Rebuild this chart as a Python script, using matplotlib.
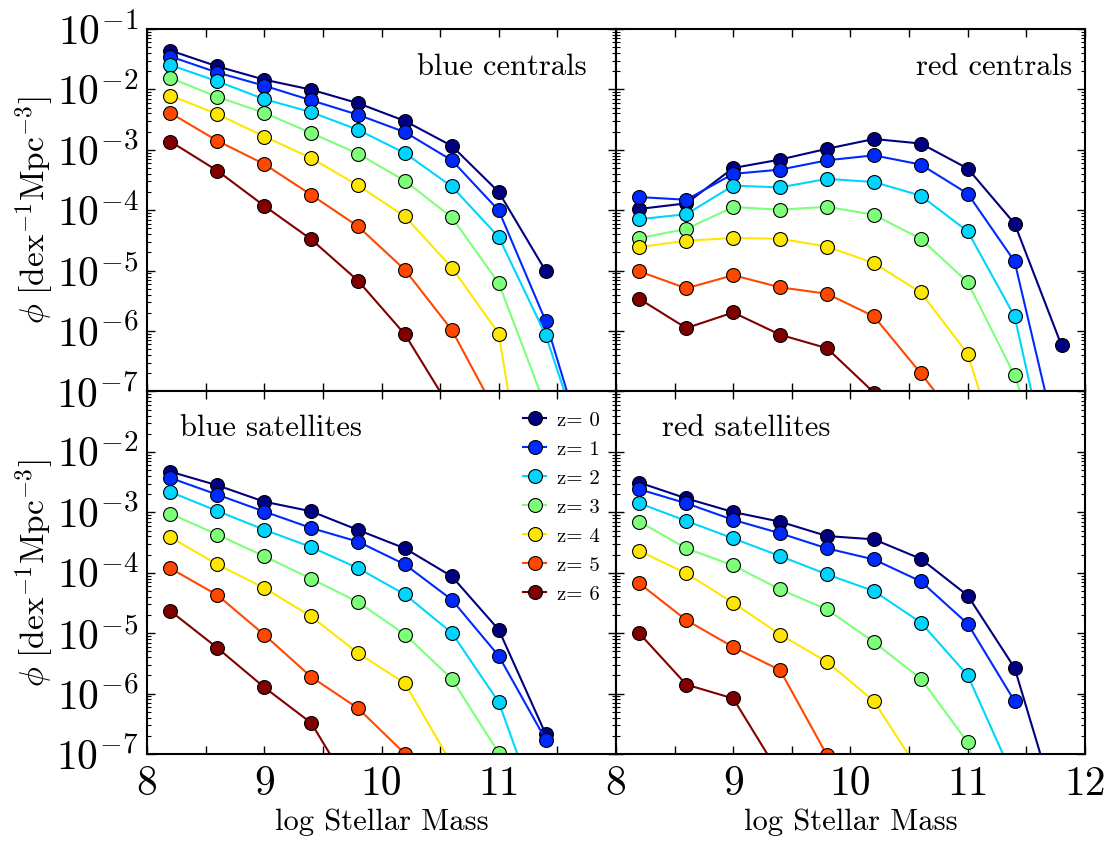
import numpy as np
import matplotlib
matplotlib.use('Agg')
import matplotlib.pyplot as plt
from matplotlib.ticker import MultipleLocator, LogLocator, NullFormatter

plt.rcParams['font.family'] = 'serif'
plt.rcParams['font.serif'] = ['cmr10']
plt.rcParams['mathtext.fontset'] = 'cm'
plt.rcParams['axes.unicode_minus'] = False

nan = np.nan

# stellar mass bins (log Msun)
mass = [8.2, 8.6, 9.0, 9.4, 9.8, 10.2, 10.6, 11.0, 11.4, 11.8]
redshifts = [0, 1, 2, 3, 4, 5, 6]

# number densities per redshift, one row per z
blue_centrals = [
    [4.4e-2, 2.4e-2, 1.45e-2, 9.9e-3, 5.9e-3, 3.0e-3, 1.16e-3, 2.0e-4, 9.9e-6, nan],
    [3.5e-2, 1.9e-2, 1.15e-2, 6.6e-3, 3.8e-3, 1.96e-3, 6.7e-4, 9.9e-5, 1.47e-6, 4e-9],
    [2.53e-2, 1.36e-2, 6.9e-3, 4.2e-3, 2.14e-3, 8.8e-4, 2.47e-4, 3.6e-5, 8.6e-7, 4e-9],
    [1.54e-2, 7.5e-3, 4.1e-3, 1.9e-3, 8.6e-4, 3.06e-4, 7.6e-5, 6.2e-6, 5.6e-8, 5e-10],
    [7.9e-3, 3.9e-3, 1.66e-3, 7.3e-4, 2.57e-4, 7.9e-5, 1.12e-5, 9.1e-7, 1.5e-11, nan],
    [4.05e-3, 1.41e-3, 5.8e-4, 1.8e-4, 5.4e-5, 1.03e-5, 1.04e-6, 3.7e-8, nan, nan],
    [1.37e-3, 4.5e-4, 1.18e-4, 3.3e-5, 6.8e-6, 8.8e-7, 4.8e-8, nan, nan, nan],
]

red_centrals = [
    [1.05e-4, 1.3e-4, 5.0e-4, 6.9e-4, 1.04e-3, 1.51e-3, 1.27e-3, 4.9e-4, 6.0e-5, 5.8e-7],
    [1.65e-4, 1.49e-4, 4.0e-4, 4.7e-4, 6.7e-4, 8.1e-4, 5.7e-4, 1.88e-4, 1.42e-5, 7e-9],
    [7.1e-5, 8.6e-5, 2.55e-4, 2.39e-4, 3.3e-4, 2.93e-4, 1.74e-4, 4.47e-5, 1.75e-6, 6e-10],
    [3.46e-5, 4.9e-5, 1.13e-4, 1.02e-4, 1.14e-4, 8.4e-5, 3.37e-5, 6.4e-6, 1.84e-7, 1e-9],
    [2.45e-5, 3.13e-5, 3.46e-5, 3.37e-5, 2.5e-5, 1.33e-5, 4.36e-6, 4.2e-7, 1.4e-9, nan],
    [9.7e-6, 5.1e-6, 8.4e-6, 5.3e-6, 4.14e-6, 1.75e-6, 2.0e-7, 2e-8, nan, nan],
    [3.4e-6, 1.12e-6, 2.03e-6, 8.7e-7, 5.2e-7, 9.6e-8, 5e-9, nan, nan, nan],
]

blue_satellites = [
    [4.7e-3, 2.8e-3, 1.5e-3, 1.04e-3, 5.1e-4, 2.53e-4, 8.7e-5, 1.14e-5, 2.14e-7, nan],
    [3.7e-3, 1.96e-3, 1.03e-3, 5.5e-4, 3.27e-4, 1.37e-4, 3.57e-5, 4.2e-6, 1.73e-7, nan],
    [2.17e-3, 1.05e-3, 5.16e-4, 2.66e-4, 1.19e-4, 4.37e-5, 1.01e-5, 7.2e-7, 5e-9, nan],
    [9.5e-4, 4.27e-4, 1.87e-4, 7.96e-5, 3.27e-5, 9.5e-6, 1.75e-6, 1.04e-7, 1e-10, nan],
    [3.86e-4, 1.37e-4, 5.6e-5, 1.89e-5, 4.67e-6, 1.48e-6, 6.8e-8, nan, nan, nan],
    [1.18e-4, 4.27e-5, 9.4e-6, 1.89e-6, 5.7e-7, 1.01e-7, 5e-9, nan, nan, nan],
    [2.32e-5, 5.7e-6, 1.27e-6, 3.27e-7, 1.7e-8, nan, nan, nan, nan, nan],
]

red_satellites = [
    [3.1e-3, 1.7e-3, 1.01e-3, 7.0e-4, 4.05e-4, 3.57e-4, 1.7e-4, 4.2e-5, 2.66e-6, 6.8e-9],
    [2.4e-3, 1.41e-3, 7.5e-4, 4.5e-4, 2.53e-4, 1.66e-4, 7.2e-5, 1.43e-5, 7.5e-7, nan],
    [1.41e-3, 7.2e-4, 3.7e-4, 1.89e-4, 9.4e-5, 4.97e-5, 1.5e-5, 2.0e-6, 3.7e-8, nan],
    [7.0e-4, 2.53e-4, 1.32e-4, 5.3e-5, 2.47e-5, 7.1e-6, 1.77e-6, 1.56e-7, 3e-10, nan],
    [2.29e-4, 9.75e-5, 3.18e-5, 9.5e-6, 3.35e-6, 7.5e-7, 4.7e-8, nan, nan, nan],
    [6.65e-5, 1.64e-5, 5.9e-6, 2.44e-6, 9.5e-8, 5e-9, nan, nan, nan, nan],
    [9.9e-6, 1.41e-6, 8.3e-7, 4.5e-8, nan, nan, nan, nan, nan, nan],
]

colors = plt.cm.jet(np.linspace(0, 1, len(redshifts)))

fig, axes = plt.subplots(2, 2, figsize=(11.08, 8.42), dpi=100)
plt.subplots_adjust(left=0.1327, right=0.9792, top=0.9656, bottom=0.1045,
                    wspace=0, hspace=0)

panels = [
    (axes[0, 0], blue_centrals, 'blue centrals', 0.938, 0.873, 'right'),
    (axes[0, 1], red_centrals, 'red centrals', 0.972, 0.873, 'right'),
    (axes[1, 0], blue_satellites, 'blue satellites', 0.07, 0.876, 'left'),
    (axes[1, 1], red_satellites, 'red satellites', 0.098, 0.876, 'left'),
]

ytick_vals = [1e-7, 1e-6, 1e-5, 1e-4, 1e-3, 1e-2, 1e-1]
ytick_text = [r'$10^{-%d}$' % k for k in range(7, 0, -1)]

for ax, data, name, tx, ty, ha in panels:
    for i, phi in enumerate(data):
        ax.plot(mass, phi, '-o', color=colors[i], lw=1.5, ms=10,
                mec='k', mew=0.8, label='z= %d' % redshifts[i])
    ax.set_yscale('log')
    ax.set_xlim(8, 12)
    ax.set_ylim(1e-7, 1e-1)
    ax.text(tx, ty, name, transform=ax.transAxes, ha=ha, va='baseline',
            fontsize=22)

    ax.set_xticks([8, 9, 10, 11, 12])
    ax.xaxis.set_minor_locator(MultipleLocator(0.5))
    ax.set_yticks(ytick_vals)
    ax.set_yticklabels(ytick_text)
    ax.yaxis.set_minor_locator(LogLocator(base=10, subs=np.arange(2, 10), numticks=20))
    ax.yaxis.set_minor_formatter(NullFormatter())

    ax.tick_params(which='both', direction='in', top=True, right=True)
    ax.tick_params(which='major', length=6, width=1, labelsize=30)
    ax.tick_params(axis='x', which='minor', length=6, width=1)
    ax.tick_params(axis='y', which='minor', length=3, width=0.8)
    ax.tick_params(axis='x', pad=8)
    ax.tick_params(axis='y', pad=6)
    for sp in ax.spines.values():
        sp.set_linewidth(1.5)

# tick labels only on the outer edges
axes[0, 0].tick_params(labelbottom=False)
axes[0, 1].tick_params(labelbottom=False, labelleft=False)
axes[1, 1].tick_params(labelleft=False)
axes[1, 0].set_xticklabels(['8', '9', '10', '11', ''])
axes[1, 0].set_yticklabels(ytick_text[:-1] + [''])
axes[1, 1].set_xticklabels(['8', '9', '10', '11', '12'])

ylab = r'$\phi\ [\mathrm{dex}^{-1}\mathrm{Mpc}^{-3}]$'
axes[0, 0].set_ylabel(ylab, fontsize=24, labelpad=0)
axes[1, 0].set_ylabel(ylab, fontsize=24, labelpad=0)
axes[1, 0].set_xlabel('log Stellar Mass', fontsize=22)
axes[1, 1].set_xlabel('log Stellar Mass', fontsize=22)

leg = axes[1, 0].legend(loc='upper right', bbox_to_anchor=(0.996, 0.986),
                        frameon=False, numpoints=1, fontsize=15,
                        handlelength=1.1, handletextpad=0.5, labelspacing=0.5,
                        borderaxespad=0.3)
leg.set_zorder(10)

plt.savefig('out.png', dpi=100)
